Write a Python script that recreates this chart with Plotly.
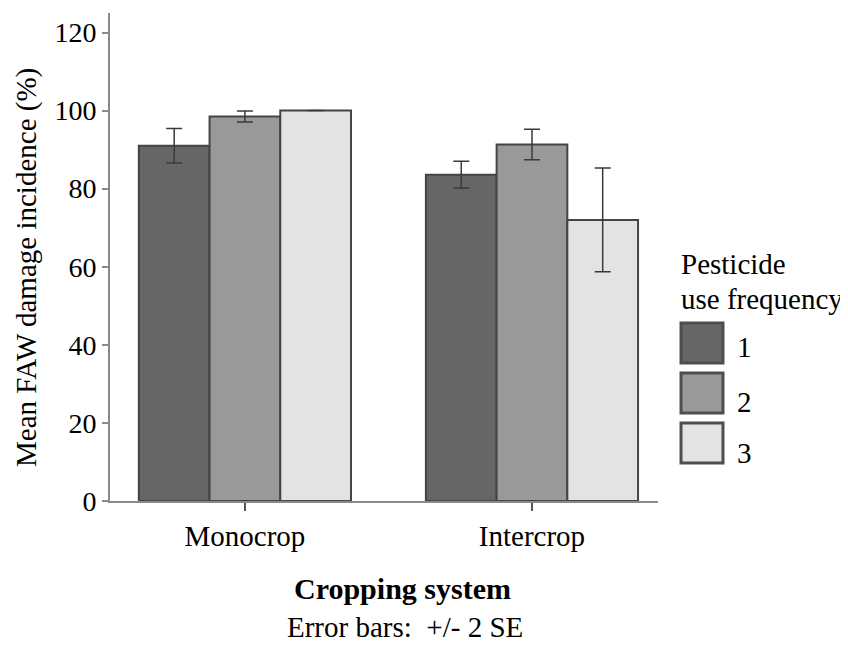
import plotly.graph_objects as go

categories = ["Monocrop", "Intercrop"]
series_names = ["1", "2", "3"]
means = {
    "1": [91.0, 83.6],
    "2": [98.5, 91.3],
    "3": [100.0, 72.0],
}
errors = {
    "1": [4.4, 3.4],
    "2": [1.4, 3.9],
    "3": [0.0, 13.3],
}
colors = ["#666666", "#999999", "#e3e3e3"]
y_ticks = [0, 20, 40, 60, 80, 100, 120]

FONT = "'Liberation Serif', 'Times New Roman', Times, serif"
FS = 29
xpos = list(range(len(categories)))

fig = go.Figure()
for name, col in zip(series_names, colors):
    fig.add_trace(go.Bar(
        x=xpos, y=means[name], name=name,
        marker=dict(color=col, line=dict(color="#444444", width=2)),
        error_y=dict(type="data", array=errors[name], visible=True,
                     color="#3a3a3a", thickness=1.5, width=8),
        showlegend=False,
    ))

# Legend drawn manually (large swatches), in plot-area paper coordinates
sw_x0, sw_x1 = 1.042, 1.1186
sw_y = [(0.2828, 0.3648), (0.1803, 0.2623), (0.0779, 0.1598)]
lab_y = [0.3156, 0.2029, 0.0984]
shapes = []
anns = []
for name, col, (y0, y1), ly in zip(series_names, colors, sw_y, lab_y):
    shapes.append(dict(type="rect", xref="paper", yref="paper",
                       x0=sw_x0, x1=sw_x1, y0=y0, y1=y1,
                       fillcolor=col, line=dict(color="#4e4e4e", width=3)))
    anns.append(dict(text=name, xref="paper", yref="paper", x=1.1405, y=ly,
                     xanchor="left", yanchor="middle", showarrow=False,
                     font=dict(family=FONT, size=FS, color="black")))
anns.append(dict(text="Pesticide", xref="paper", yref="paper",
                 x=1.038, y=0.486, xanchor="left", yanchor="middle",
                 showarrow=False, font=dict(family=FONT, size=FS, color="black")))
anns.append(dict(text="use frequency", xref="paper", yref="paper",
                 x=1.038, y=0.414, xanchor="left", yanchor="middle",
                 showarrow=False, font=dict(family=FONT, size=FS, color="black")))
anns.append(dict(text="<b>Cropping system</b>", xref="paper", yref="paper",
                 x=0.533, y=-0.180, xanchor="center", yanchor="middle",
                 showarrow=False, font=dict(family=FONT, size=30, color="black")))
anns.append(dict(text="Error bars:  +/- 2 SE", xref="paper", yref="paper",
                 x=0.538, y=-0.258, xanchor="center", yanchor="middle",
                 showarrow=False, font=dict(family=FONT, size=FS, color="black")))
anns.append(dict(text="Mean FAW damage incidence (%)", xref="paper", yref="paper",
                 x=-0.1533, y=0.4795, xanchor="center", yanchor="middle",
                 textangle=-90, showarrow=False, borderpad=0,
                 font=dict(family=FONT, size=29, color="black")))

fig.update_layout(
    width=840, height=645,
    margin=dict(l=102, r=190, t=5, b=152, autoexpand=False),
    paper_bgcolor="white", plot_bgcolor="white",
    barmode="group", bargap=0.261, bargroupgap=0,
    font=dict(family=FONT, size=FS, color="black"),
    xaxis=dict(
        tickmode="array", tickvals=xpos, ticktext=categories,
        range=[-0.47, 1.439],
        showline=True, linecolor="#8a8a8a", linewidth=2,
        ticks="outside", ticklen=8, tickcolor="#555555", tickwidth=2,
        showgrid=False, zeroline=False,
    ),
    yaxis=dict(
        range=[0, 125], tickvals=y_ticks,
        tickfont=dict(family=FONT, size=28),
        showline=True, linecolor="#8a8a8a", linewidth=2,
        ticks="outside", ticklen=6, tickcolor="#8a8a8a", tickwidth=2,
        showgrid=False, zeroline=False,
    ),
    shapes=shapes, annotations=anns,
)

fig.write_html("out.html")
